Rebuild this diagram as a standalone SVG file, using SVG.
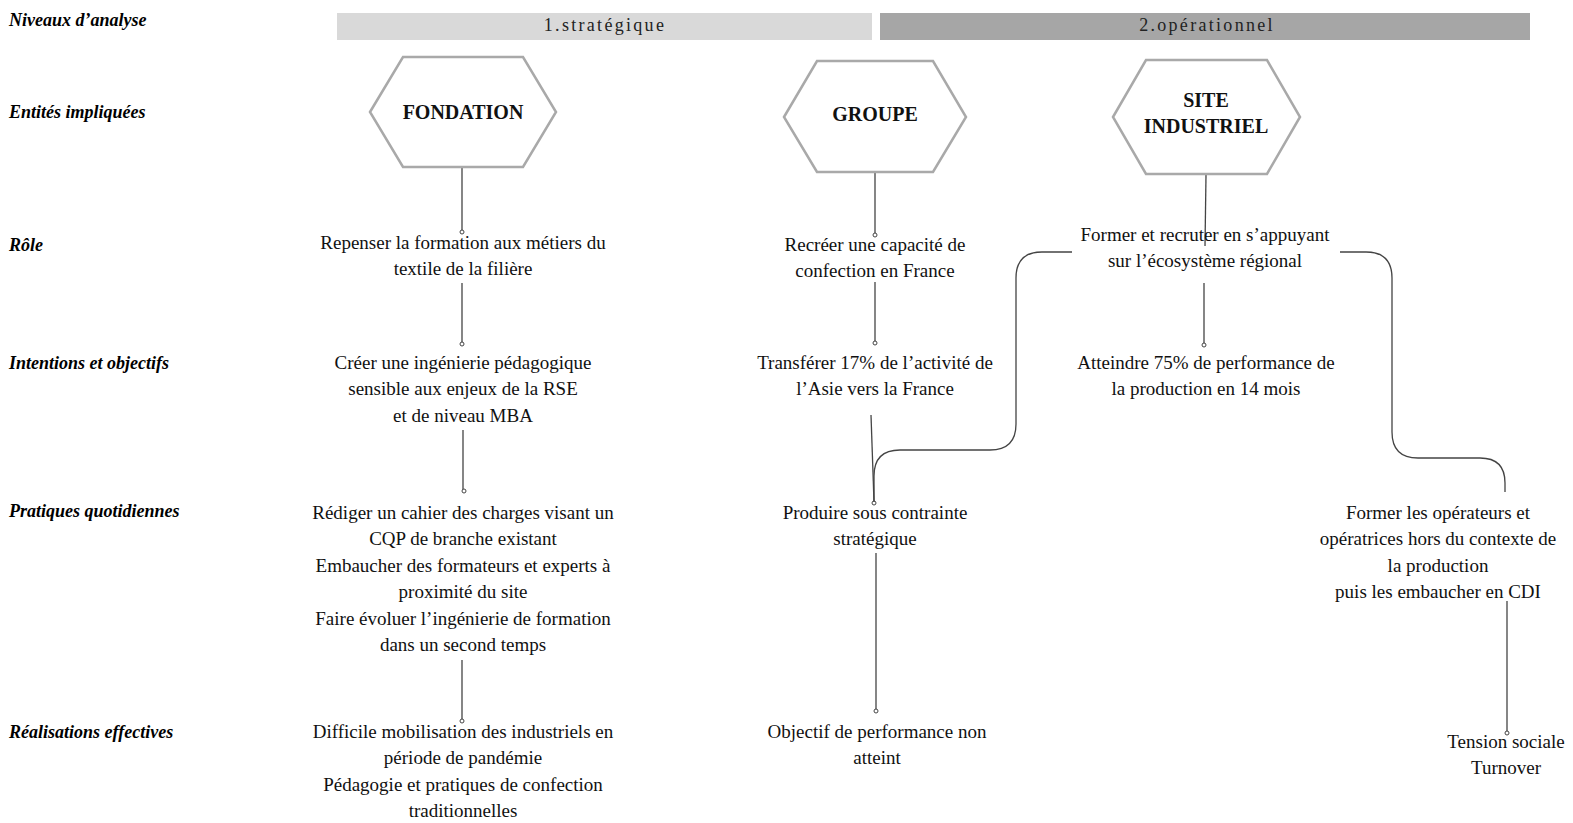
<svg xmlns="http://www.w3.org/2000/svg" width="1573" height="823" viewBox="0 0 1573 823">
<style>
.lbl{font-family:"Liberation Serif",serif;font-size:18px;font-style:italic;font-weight:bold;fill:#000}
.t{font-family:"Liberation Serif",serif;font-size:19px;fill:#111;text-anchor:middle}
.h{font-family:"Liberation Serif",serif;font-size:20px;font-weight:bold;fill:#111;text-anchor:middle}
.bar{font-family:"Liberation Serif",serif;font-size:18px;letter-spacing:2.3px;fill:#222;text-anchor:middle}
.hex{fill:#fff;stroke:#a9a9a9;stroke-width:2.5}
.c{fill:none;stroke:#444;stroke-width:1.3}
.dot{fill:#fff;stroke:#444;stroke-width:1}
</style>
<rect width="1573" height="823" fill="#fff"/>
<g id="labels">
<text class="lbl" x="9" y="26">Niveaux d’analyse</text>
<text class="lbl" x="9" y="118">Entités impliquées</text>
<text class="lbl" x="9" y="251">Rôle</text>
<text class="lbl" x="9" y="369">Intentions et objectifs</text>
<text class="lbl" x="9" y="517">Pratiques quotidiennes</text>
<text class="lbl" x="9" y="738">Réalisations effectives</text>
</g>
<g id="levels">
<rect x="337" y="13" width="535" height="27" fill="#d9d9d9"/>
<text class="bar" x="605" y="31">1.stratégique</text>
<rect x="880" y="13" width="650" height="27" fill="#a6a6a6"/>
<text class="bar" x="1207" y="31">2.opérationnel</text>
</g>
<g id="connectors">
<path class="c" d="M462,168 V232"/><circle class="dot" cx="462" cy="232" r="2"/>
<path class="c" d="M462,283 V344"/><circle class="dot" cx="462" cy="344" r="2"/>
<path class="c" d="M463,430 V490"/><circle class="dot" cx="464" cy="491" r="2"/>
<path class="c" d="M462,660 V720"/><circle class="dot" cx="462" cy="721" r="2"/>
<path class="c" d="M875,173 V234"/><circle class="dot" cx="875" cy="235" r="2"/>
<path class="c" d="M875,282 V342"/><circle class="dot" cx="875" cy="343" r="2"/>
<path class="c" d="M871,415 L874,502"/><circle class="dot" cx="874" cy="503" r="2"/>
<path class="c" d="M876,553 V710"/><circle class="dot" cx="876" cy="711" r="2"/>
<path class="c" d="M1206,175 L1205,246"/>
<path class="c" d="M1204,283 V344"/><circle class="dot" cx="1204" cy="345" r="2"/>
<path class="c" d="M1072,252 H1042 Q1016,252 1016,278 V424 Q1016,450 990,450 H900 Q874,450 874,476 V502"/>
<path class="c" d="M1340,252 H1366 Q1392,252 1392,278 V432 Q1392,458 1418,458 H1480 Q1505,458 1505,483 V492"/>
<path class="c" d="M1507,601 V733"/><circle class="dot" cx="1507" cy="733" r="2"/>
</g>
<g id="fondation">
<polygon class="hex" points="370,112 403,57 523,57 556,112 523,167 403,167"/>
<text class="h" x="463" y="119">FONDATION</text>
</g>
<g id="groupe">
<polygon class="hex" points="784,117 817,61 933,61 966,117 933,172 817,172"/>
<text class="h" x="875" y="121">GROUPE</text>
</g>
<g id="site">
<polygon class="hex" points="1113,117 1146,60 1267,60 1300,117 1267,174 1146,174"/>
<text class="h" x="1206" y="107">SITE</text>
<text class="h" x="1206" y="133">INDUSTRIEL</text>
</g>
<g id="col1">
<text class="t" x="463" y="249">Repenser la formation aux métiers du</text>
<text class="t" x="463" y="275">textile de la filière</text>
<text class="t" x="463" y="369">Créer une ingénierie pédagogique</text>
<text class="t" x="463" y="395">sensible aux enjeux de la RSE</text>
<text class="t" x="463" y="422">et de niveau MBA</text>
<text class="t" x="463" y="519">Rédiger un cahier des charges visant un</text>
<text class="t" x="463" y="545">CQP de branche existant</text>
<text class="t" x="463" y="572">Embaucher des formateurs et experts à</text>
<text class="t" x="463" y="598">proximité du site</text>
<text class="t" x="463" y="625">Faire évoluer l’ingénierie de formation</text>
<text class="t" x="463" y="651">dans un second temps</text>
<text class="t" x="463" y="738">Difficile mobilisation des industriels en</text>
<text class="t" x="463" y="764">période de pandémie</text>
<text class="t" x="463" y="791">Pédagogie et pratiques de confection</text>
<text class="t" x="463" y="817">traditionnelles</text>
</g>
<g id="col2">
<text class="t" x="875" y="251">Recréer une capacité de</text>
<text class="t" x="875" y="277">confection en France</text>
<text class="t" x="875" y="369">Transférer 17% de l’activité de</text>
<text class="t" x="875" y="395">l’Asie vers la France</text>
<text class="t" x="875" y="519">Produire sous contrainte</text>
<text class="t" x="875" y="545">stratégique</text>
<text class="t" x="877" y="738">Objectif de performance non</text>
<text class="t" x="877" y="764">atteint</text>
</g>
<g id="col3">
<text class="t" x="1205" y="241">Former et recruter en s’appuyant</text>
<text class="t" x="1205" y="267">sur l’écosystème régional</text>
<text class="t" x="1206" y="369">Atteindre 75% de performance de</text>
<text class="t" x="1206" y="395">la production en 14 mois</text>
</g>
<g id="col4">
<text class="t" x="1438" y="519">Former les opérateurs et</text>
<text class="t" x="1438" y="545">opératrices hors du contexte de</text>
<text class="t" x="1438" y="572">la production</text>
<text class="t" x="1438" y="598">puis les embaucher en CDI</text>
<text class="t" x="1506" y="748">Tension sociale</text>
<text class="t" x="1506" y="774">Turnover</text>
</g>
</svg>
